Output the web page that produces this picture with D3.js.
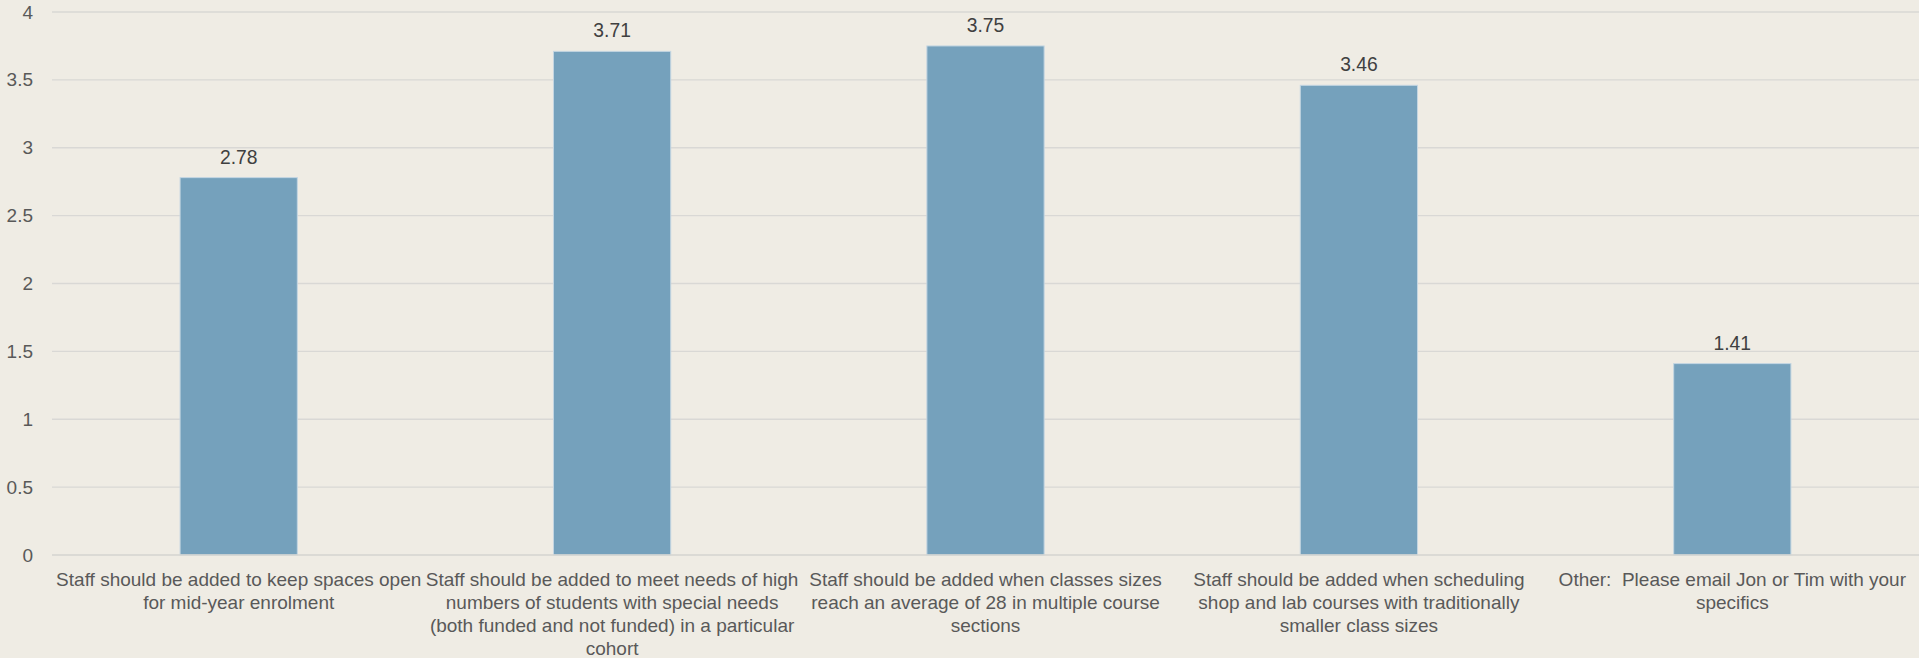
<!DOCTYPE html>
<html>
<head>
<meta charset="utf-8">
<script src="https://cdn.jsdelivr.net/npm/d3@7"></script>
<style>
  html, body { margin: 0; padding: 0; background: #EFECE4; }
  svg { display: block; font-family: "Liberation Sans", Arial, sans-serif; }
</style>
</head>
<body>
<div id="holder"></div>
<script>
// category labels, already split the way the original chart wraps them
var categories = [
  ['Staff should be added to keep spaces open', 'for mid-year enrolment'],
  ['Staff should be added to meet needs of high', 'numbers of students with special needs', '(both funded and not funded) in a particular', 'cohort'],
  ['Staff should be added when classes sizes', 'reach an average of 28 in multiple course', 'sections'],
  ['Staff should be added when scheduling', 'shop and lab courses with traditionally', 'smaller class sizes'],
  ['Other:  Please email Jon or Tim with your', 'specifics']
];
var values = [2.78, 3.71, 3.75, 3.46, 1.41];
var yTicks = [0, 0.5, 1, 1.5, 2, 2.5, 3, 3.5, 4];

function generateBarChart() {
  var fullWidth = 1919;
  var fullHeight = 658;
  var margin = {top: 12, right: 0, bottom: 103, left: 52};
  var width = fullWidth - margin.left - margin.right;
  var height = fullHeight - margin.top - margin.bottom;

  var svg = d3.select('#holder').append('svg')
    .attr('width', fullWidth)
    .attr('height', fullHeight);

  svg.append('rect')
    .attr('width', fullWidth)
    .attr('height', fullHeight)
    .attr('fill', '#EFECE4');

  var g = svg.append('g')
    .attr('transform', 'translate(' + margin.left + ',' + margin.top + ')');

  var idx = d3.range(values.length);

  var xScale = d3.scaleBand()
    .domain(idx)
    .range([0, width])
    .paddingInner(0)
    .paddingOuter(0);

  var yScale = d3.scaleLinear()
    .domain([0, 4])
    .range([height, 0]);

  var barWidth = xScale.bandwidth() * 0.314;

  // gridlines
  g.append('g').classed('grid', true)
    .selectAll('line')
    .data(yTicks.filter(function(t) { return t > 0; }))
    .enter().append('line')
      .attr('x1', 0)
      .attr('x2', width)
      .attr('y1', function(d) { return yScale(d); })
      .attr('y2', function(d) { return yScale(d); })
      .attr('stroke', '#D9D8D5')
      .attr('stroke-width', 1.3);

  // y axis labels
  var yaxis = d3.axisLeft(yScale)
    .tickValues(yTicks)
    .tickFormat(function(d) { return d; })
    .tickSize(0)
    .tickPadding(19);

  var ya = g.append('g').classed('y axis', true).call(yaxis);
  ya.select('.domain').remove();
  ya.selectAll('text')
    .attr('fill', '#595959')
    .style('font-size', '19px');

  // bars
  g.append('g').classed('bar-holder', true)
    .selectAll('rect.bar')
    .data(values)
    .enter().append('rect')
      .classed('bar', true)
      .attr('x', function(d, i) { return xScale(i) + xScale.bandwidth() / 2 - barWidth / 2; })
      .attr('width', barWidth)
      .attr('y', function(d) { return yScale(d); })
      .attr('height', function(d) { return height - yScale(d); })
      .attr('fill', '#75A1BC')
      .attr('stroke', '#C4D6E2')
      .attr('stroke-width', 1);

  // value labels
  g.append('g').classed('labels', true)
    .selectAll('text')
    .data(values)
    .enter().append('text')
      .attr('x', function(d, i) { return xScale(i) + xScale.bandwidth() / 2; })
      .attr('y', function(d) { return yScale(d) - 14; })
      .attr('text-anchor', 'middle')
      .attr('fill', '#404040')
      .style('font-size', '19.3px')
      .text(function(d) { return d.toFixed(2); });

  // baseline
  g.append('line')
    .attr('x1', 0).attr('x2', width)
    .attr('y1', height).attr('y2', height)
    .attr('stroke', '#D5D4D1')
    .attr('stroke-width', 1.5);

  // category labels
  var cat = g.append('g').classed('x axis', true)
    .attr('transform', 'translate(0,' + height + ')');

  cat.selectAll('text')
    .data(categories)
    .enter().append('text')
      .attr('text-anchor', 'middle')
      .attr('fill', '#595959')
      .style('font-size', '19px')
      .style('white-space', 'pre')
      .attr('transform', function(d, i) {
        return 'translate(' + (xScale(i) + xScale.bandwidth() / 2) + ',31)';
      })
      .each(function(lines) {
        var t = d3.select(this);
        lines.forEach(function(line, j) {
          t.append('tspan')
            .attr('x', 0)
            .attr('y', j * 23)
            .text(line);
        });
      });
}

generateBarChart();
</script>
</body>
</html>
